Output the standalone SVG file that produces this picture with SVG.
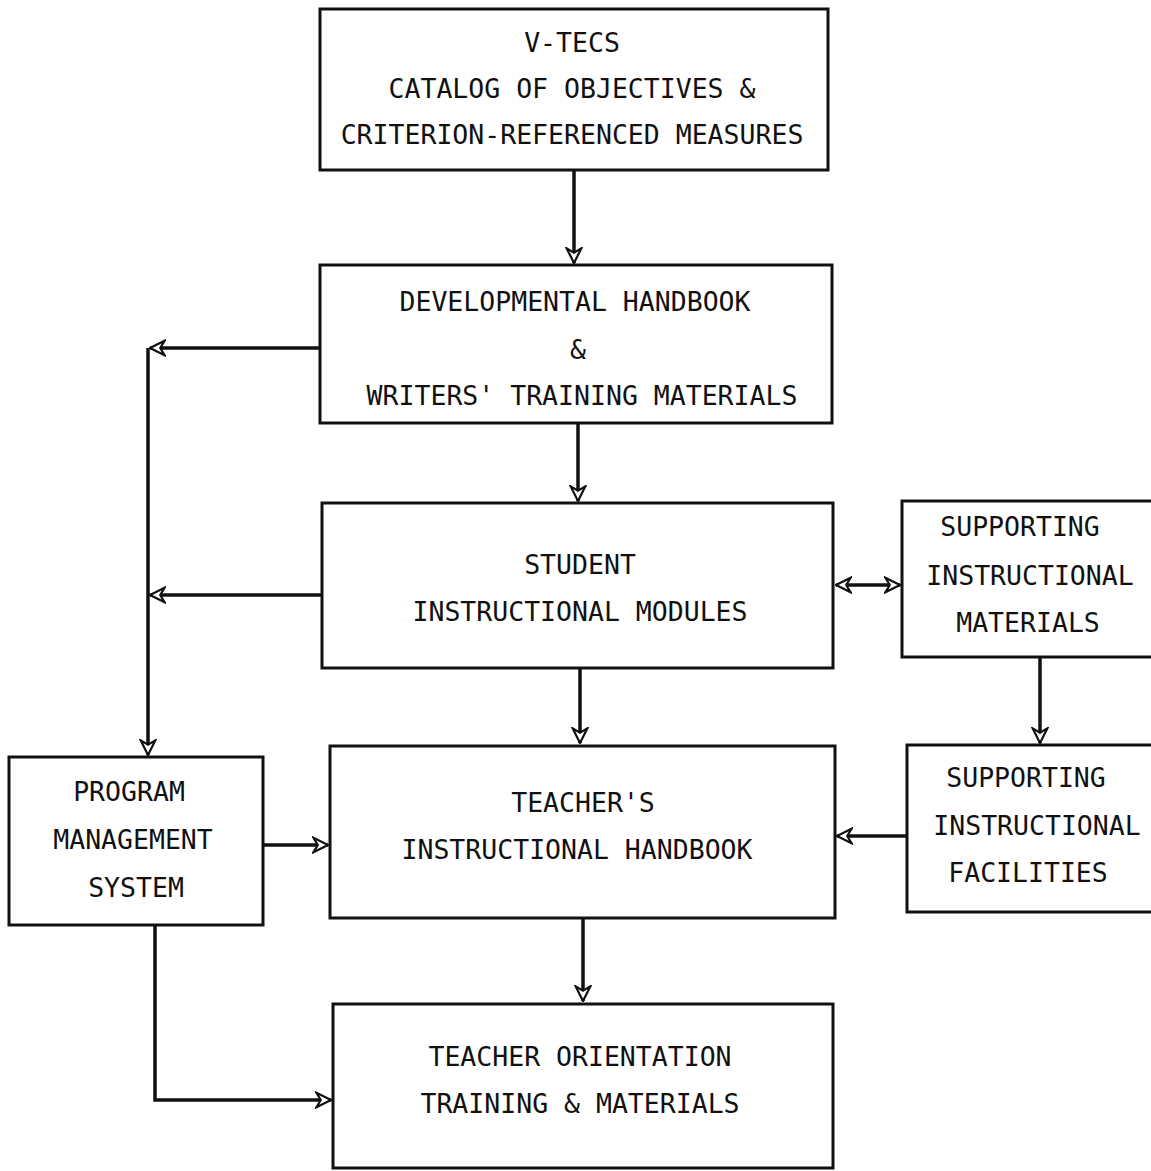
<svg xmlns="http://www.w3.org/2000/svg" width="1151" height="1171" viewBox="0 0 1151 1171">
<defs>
<style>
.box{fill:#fff;stroke:#111;stroke-width:3}
.lbl{font-family:"DejaVu Sans Mono","Liberation Mono",monospace;font-size:26.5px;fill:#111;text-anchor:middle}
.con{fill:none;stroke:#111;stroke-width:3.5}
</style>
<marker id="ah" viewBox="0 0 12 12" refX="11" refY="6" markerWidth="5" markerHeight="5" orient="auto" markerUnits="strokeWidth">
<path d="M1,1 L11,6 L1,11 L4,6 Z" fill="#fff" stroke="#111" stroke-width="1.5"/>
</marker>
<marker id="ahs" viewBox="0 0 12 12" refX="1" refY="6" markerWidth="5" markerHeight="5" orient="auto" markerUnits="strokeWidth">
<path d="M11,1 L1,6 L11,11 L8,6 Z" fill="#fff" stroke="#111" stroke-width="1.5"/>
</marker>
</defs>
<rect width="1151" height="1171" fill="#fff"/>
<g id="connectors">
<path class="con" d="M574,170 L574,263" marker-end="url(#ah)"/>
<path class="con" d="M578,423 L578,501" marker-end="url(#ah)"/>
<path class="con" d="M320,348 L150,348"  marker-end="url(#ah)"/>
<path class="con" d="M148,348 L148,755" marker-end="url(#ah)"/>
<path class="con" d="M322,595 L150,595" marker-end="url(#ah)"/>
<path class="con" d="M836,585 L900,585" marker-start="url(#ahs)" marker-end="url(#ah)"/>
<path class="con" d="M1040,657 L1040,743" marker-end="url(#ah)"/>
<path class="con" d="M907,836 L837,836" marker-end="url(#ah)"/>
<path class="con" d="M580,668 L580,743" marker-end="url(#ah)"/>
<path class="con" d="M263,845 L328,845" marker-end="url(#ah)"/>
<path class="con" d="M583,918 L583,1001" marker-end="url(#ah)"/>
<path class="con" d="M155,925 L155,1100 L331,1100" marker-end="url(#ah)"/>
</g>
<g id="vtecs">
<rect class="box" x="320" y="9" width="508" height="161"/>
<text class="lbl" x="572" y="52">V-TECS</text>
<text class="lbl" x="572" y="98">CATALOG OF OBJECTIVES &amp;</text>
<text class="lbl" x="572" y="144">CRITERION-REFERENCED MEASURES</text>
</g>
<g id="devhandbook">
<rect class="box" x="320" y="265" width="512" height="158"/>
<text class="lbl" x="575" y="311">DEVELOPMENTAL HANDBOOK</text>
<text class="lbl" x="578" y="359">&amp;</text>
<text class="lbl" x="582" y="405">WRITERS' TRAINING MATERIALS</text>
</g>
<g id="student">
<rect class="box" x="322" y="503" width="511" height="165"/>
<text class="lbl" x="580" y="574">STUDENT</text>
<text class="lbl" x="580" y="621">INSTRUCTIONAL MODULES</text>
</g>
<g id="suppmaterials">
<rect class="box" x="902" y="501" width="260" height="156"/>
<text class="lbl" x="1020" y="536">SUPPORTING</text>
<text class="lbl" x="1030" y="585">INSTRUCTIONAL</text>
<text class="lbl" x="1028" y="632">MATERIALS</text>
</g>
<g id="suppfacilities">
<rect class="box" x="907" y="745" width="255" height="167"/>
<text class="lbl" x="1026" y="787">SUPPORTING</text>
<text class="lbl" x="1037" y="835">INSTRUCTIONAL</text>
<text class="lbl" x="1028" y="882">FACILITIES</text>
</g>
<g id="teacherhandbook">
<rect class="box" x="330" y="746" width="505" height="172"/>
<text class="lbl" x="583" y="812">TEACHER'S</text>
<text class="lbl" x="577" y="859">INSTRUCTIONAL HANDBOOK</text>
</g>
<g id="pms">
<rect class="box" x="9" y="757" width="254" height="168"/>
<text class="lbl" x="129" y="801">PROGRAM</text>
<text class="lbl" x="133" y="849">MANAGEMENT</text>
<text class="lbl" x="136" y="897">SYSTEM</text>
</g>
<g id="orientation">
<rect class="box" x="333" y="1004" width="500" height="164"/>
<text class="lbl" x="580" y="1066">TEACHER ORIENTATION</text>
<text class="lbl" x="580" y="1113">TRAINING &amp; MATERIALS</text>
</g>
</svg>
